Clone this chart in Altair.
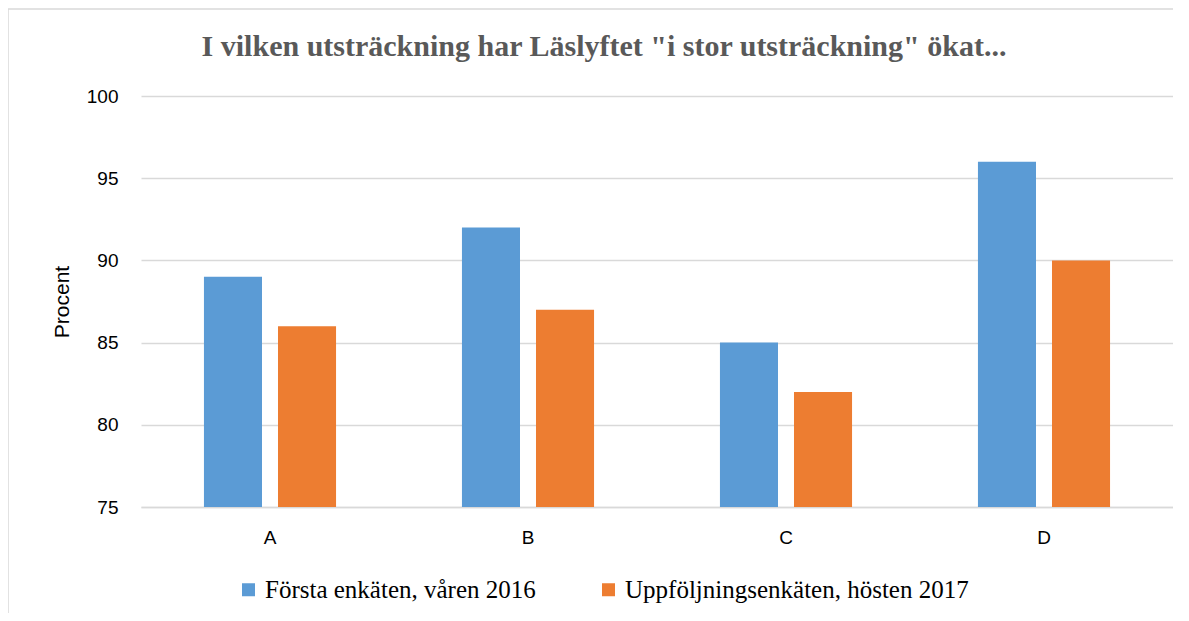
import altair as alt
import pandas as pd

categories = ["A", "B", "C", "D"]
series = ["Första enkäten, våren 2016", "Uppföljningsenkäten, hösten 2017"]
first_2016 = [89, 92, 85, 96]
follow_2017 = [86, 87, 82, 90]
colors = ["#5b9bd5", "#ed7d31"]
title_text = "I vilken utsträckning har Läslyftet \"i stor utsträckning\" ökat..."

rows = []
for c, v1, v2 in zip(categories, first_2016, follow_2017):
    rows.append({"cat": c, "serie": series[0], "val": v1})
    rows.append({"cat": c, "serie": series[1], "val": v2})
df = pd.DataFrame(rows)

W, H = 1032, 411

bars = alt.Chart(df).mark_bar().encode(
    x=alt.X("cat:N", title=None, sort=categories,
            scale=alt.Scale(paddingInner=0.488, paddingOuter=0.244),
            axis=alt.Axis(labelAngle=0, ticks=False, domain=True, domainColor="#d9d9d9",
                          domainWidth=1.3,
                          labelFont="Liberation Sans", labelFontSize=19, labelColor="#000000",
                          labelPadding=21)),
    xOffset=alt.XOffset("serie:N", sort=series, scale=alt.Scale(paddingInner=0.216, paddingOuter=0)),
    y=alt.Y("val:Q", title="Procent",
            scale=alt.Scale(domain=[75, 100], zero=False, nice=False),
            axis=alt.Axis(values=[75, 80, 85, 90, 95, 100], ticks=False, domain=False,
                          gridColor="#d9d9d9", gridWidth=1.3,
                          labelFont="Liberation Sans", labelFontSize=19, labelColor="#000000",
                          labelPadding=23, titleFont="Liberation Sans", titleFontSize=21,
                          titleFontWeight="normal", titleColor="#000000", titlePadding=14)),
    y2=alt.datum(75),
    color=alt.Color("serie:N", sort=series, scale=alt.Scale(domain=series, range=colors),
                    legend=alt.Legend(title=None, orient="none", legendX=95, legendY=481,
                                      direction="horizontal", symbolType="square", symbolSize=169,
                                      symbolStrokeWidth=0, labelFont="Liberation Serif",
                                      labelFontSize=25, labelColor="#000000", columnPadding=60,
                                      labelOffset=4, labelLimit=500, symbolOffset=0)),
)

border = alt.Chart(pd.DataFrame({"k": [0]})).mark_rect(
    fill=None, stroke="#d9d9d9", strokeWidth=1.5
).encode(x=alt.value(-133), x2=alt.value(1100), y=alt.value(-87), y2=alt.value(600))

title = alt.Chart(pd.DataFrame({"t": [title_text]})).mark_text(
    font="Liberation Serif", fontSize=30, fontWeight="bold", color="#595959",
    align="center", baseline="middle"
).encode(text="t:N", x=alt.value(463), y=alt.value(-49))

chart = alt.layer(border, bars, title).properties(
    width=W, height=H,
    autosize=alt.AutoSizeParams(type="none"),
    padding={"left": 133, "top": 88, "right": 0, "bottom": 106},
).configure_view(stroke=None)

chart.save("out.html", embed_options={"renderer": "svg", "actions": False})
